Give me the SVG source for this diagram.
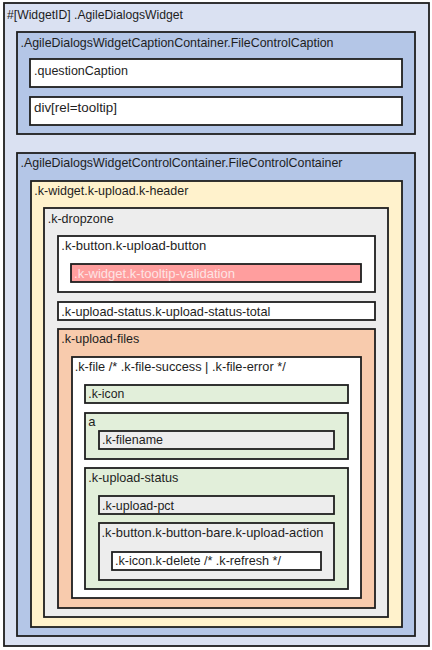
<svg xmlns="http://www.w3.org/2000/svg" width="432" height="650" viewBox="0 0 432 650">
<style>
rect{stroke:#1e1e1e;stroke-width:1.8}
text{font-family:"Liberation Sans",Arial,sans-serif;font-size:13px;fill:#1e1e1e}
.lav{fill:#dae1f2}.blue{fill:#b4c6e7}.cream{fill:#fff2cc}.gray{fill:#ededed}.peach{fill:#f8cbad}.white{fill:#ffffff}.green{fill:#e2efda}.red{fill:#ff9e9e}
text.light{fill:#fde4e4}
</style>
<rect width="432" height="650" fill="#ffffff" style="stroke:none"/>
<g id="widget"><rect class="lav" x="4" y="3" width="425" height="643"/><text x="7" y="19" textLength="176" lengthAdjust="spacingAndGlyphs">#[WidgetID] .AgileDialogsWidget</text></g>
<g id="captionContainer"><rect class="blue" x="17" y="32" width="398" height="102"/><text x="20.5" y="47" textLength="313" lengthAdjust="spacingAndGlyphs">.AgileDialogsWidgetCaptionContainer.FileControlCaption</text></g>
<g id="questionCaption"><rect class="white" x="30" y="59" width="372" height="28"/><text x="34" y="74.5" textLength="94" lengthAdjust="spacingAndGlyphs">.questionCaption</text></g>
<g id="tooltip"><rect class="white" x="30" y="97" width="372" height="28"/><text x="34" y="112" textLength="83" lengthAdjust="spacingAndGlyphs">div[rel=tooltip]</text></g>
<g id="controlContainer"><rect class="blue" x="17" y="153" width="398" height="483"/><text x="20.5" y="167" textLength="322" lengthAdjust="spacingAndGlyphs">.AgileDialogsWidgetControlContainer.FileControlContainer</text></g>
<g id="uploadHeader"><rect class="cream" x="31" y="181" width="371" height="446"/><text x="34.3" y="195" textLength="154" lengthAdjust="spacingAndGlyphs">.k-widget.k-upload.k-header</text></g>
<g id="dropzone"><rect class="gray" x="44" y="208" width="344" height="409"/><text x="47.7" y="222.5" textLength="66" lengthAdjust="spacingAndGlyphs">.k-dropzone</text></g>
<g id="uploadButton"><rect class="white" x="58" y="236" width="317" height="56"/><text x="61.3" y="250" textLength="145" lengthAdjust="spacingAndGlyphs">.k-button.k-upload-button</text></g>
<g id="tooltipValidation"><rect class="red" x="71" y="264" width="290" height="18"/><text class="light" x="74" y="277.5" textLength="161" lengthAdjust="spacingAndGlyphs">.k-widget.k-tooltip-validation</text></g>
<g id="uploadStatusTotal"><rect class="white" x="58" y="302" width="317" height="18"/><text x="61.3" y="315.5" textLength="209" lengthAdjust="spacingAndGlyphs">.k-upload-status.k-upload-status-total</text></g>
<g id="uploadFiles"><rect class="peach" x="58" y="329" width="317" height="279"/><text x="61.3" y="343.3" textLength="78" lengthAdjust="spacingAndGlyphs">.k-upload-files</text></g>
<g id="file"><rect class="white" x="72" y="357" width="289" height="241"/><text x="74.7" y="371" textLength="211" lengthAdjust="spacingAndGlyphs">.k-file /* .k-file-success | .k-file-error */</text></g>
<g id="icon"><rect class="green" x="85" y="385" width="263" height="18"/><text x="88.3" y="398" textLength="36" lengthAdjust="spacingAndGlyphs">.k-icon</text></g>
<g id="anchor"><rect class="green" x="85" y="413" width="263" height="46"/><text x="88.3" y="425.7">a</text></g>
<g id="filename"><rect class="gray" x="99" y="431" width="235" height="18"/><text x="102" y="444.3" textLength="61" lengthAdjust="spacingAndGlyphs">.k-filename</text></g>
<g id="uploadStatus"><rect class="green" x="85" y="468" width="263" height="121"/><text x="88.3" y="482.3" textLength="90" lengthAdjust="spacingAndGlyphs">.k-upload-status</text></g>
<g id="uploadPct"><rect class="gray" x="99" y="496" width="235" height="18"/><text x="102" y="509.5" textLength="72" lengthAdjust="spacingAndGlyphs">.k-upload-pct</text></g>
<g id="uploadAction"><rect class="gray" x="99" y="523" width="235" height="57"/><text x="101.5" y="537.3" textLength="222" lengthAdjust="spacingAndGlyphs">.k-button.k-button-bare.k-upload-action</text></g>
<g id="deleteIcon"><rect class="white" x="112" y="552" width="209" height="18"/><text x="115" y="564.8" textLength="166" lengthAdjust="spacingAndGlyphs">.k-icon.k-delete /* .k-refresh */</text></g>
</svg>
